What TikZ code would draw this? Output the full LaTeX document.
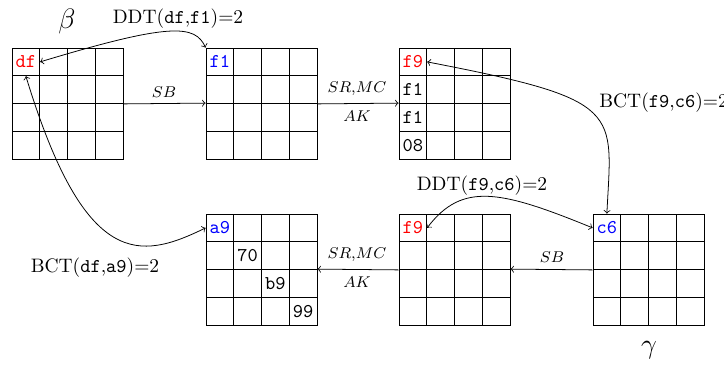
\documentclass[tikz,border=0pt]{standalone}
\usetikzlibrary{arrows}
\begin{document}
\begin{tikzpicture}[x=0.018018cm,y=-0.018018cm,
  cell/.style={draw,minimum size=0.5cm,inner sep=0pt,line width=0.4pt},
  val/.style={font=\ttfamily,inner sep=0pt},
  lbl/.style={inner sep=1pt},
  oplbl/.style={font=\footnotesize,inner sep=1pt},
  conn/.style={->,line width=0.4pt},
  dconn/.style={<->,line width=0.4pt}]
\useasboundingbox (0,0) rectangle (724,365);
\foreach \g/\x/\y in {A/12/48,B/206/48,C/399/48,D/206/214,E/399/214,F/593/214}{
  \foreach \r in {1,...,4}{
    \foreach \c in {1,...,4}{
      \node[cell] (\g\r\c) at ({\x+(\c-0.5)*27.75},{\y+(\r-0.5)*27.75}) {};
    }
  }
}
% cell values
\node[val,red] (vA) at (A11) {df};
\node[val,blue] (vB) at (B11) {f1};
\node[val,red] (vC1) at (C11) {f9};
\node[val] (vC2) at (C21) {f1};
\node[val] (vC3) at (C31) {f1};
\node[val] (vC4) at (C41) {08};
\node[val,blue] (vD1) at (D11) {a9};
\node[val] (vD2) at (D22) {70};
\node[val] (vD3) at (D33) {b9};
\node[val] (vD4) at (D44) {99};
\node[val,red] (vE) at (E11) {f9};
\node[val,blue] (vF) at (F11) {c6};
% greek labels
\node[font=\Large] (beta) at (67,21) {$\beta$};
\node[font=\Large] (gamma) at (649,350) {$\gamma$};
% horizontal arrows
\draw[conn] (A24.south east) -- (B31.north west);
\node[oplbl] (sb1) at (164,92) {$SB$};
\draw[conn] (B24.south east) -- (C31.north west);
\node[oplbl] (srmc1) at (357,89) {$SR{,}MC$};
\node[oplbl] (ak1) at (357,116) {$AK$};
\draw[conn] (F21.south west) -- (E34.north east);
\node[oplbl] (sb2) at (552,257) {$SB$};
\draw[conn] (E21.south west) -- (D34.north east);
\node[oplbl] (srmc2) at (357,255) {$SR{,}MC$};
\node[oplbl] (ak2) at (357,282) {$AK$};
% curved connectors
\draw[dconn] (A11.east) .. controls (172,22) and (195,25) .. (B11.north west);
\node[lbl] (ddt1) at (178,19) {DDT(\texttt{df},\texttt{f1})=2};
\draw[dconn] (C11.east) .. controls (625,100) and (612,110) .. (F11.north);
\node[lbl,anchor=west] (bct1) at (597,103) {BCT(\texttt{f9},\texttt{c6})=2};
\draw[dconn] (E11.east) .. controls (462,182) and (500,190) .. (F11.west);
\node[lbl] (ddt2) at (482,186) {DDT(\texttt{f9},\texttt{c6})=2};
\draw[dconn] (A11.south) .. controls (85,270) and (140,260) .. (D11.west);
\node[lbl] (bct2) at (95,268) {BCT(\texttt{df},\texttt{a9})=2};
\end{tikzpicture}
\end{document}
